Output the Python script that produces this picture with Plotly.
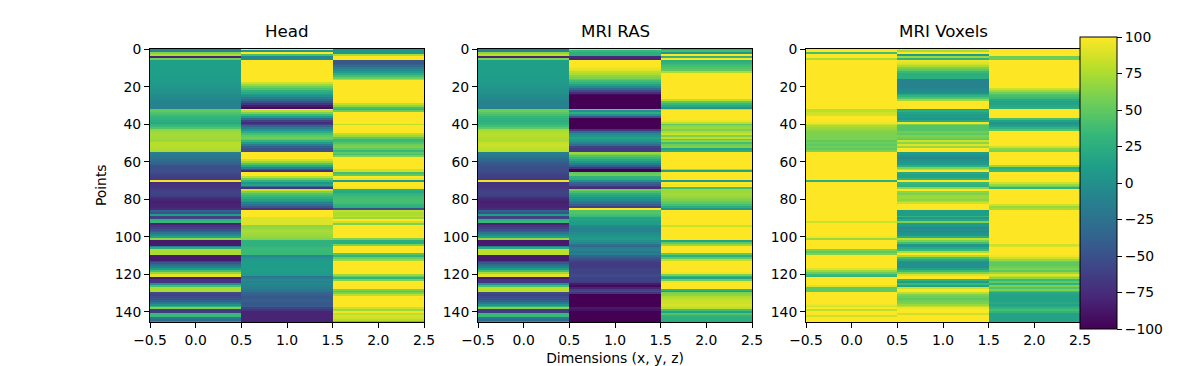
import plotly.graph_objects as go

head_x = [-10,-10,60,75,-80,55,12,12,12,12,
12,12,12,11,11,10,10,9,8,7,
5,3,2,0,-2,-4,-6,-8,-10,-10,
-11,-12,50,50,45,38,32,28,25,22,
28,35,45,66,70,72,72,72,70,70,
78,78,78,76,74,-15,-18,-20,-25,-30,
-35,-40,-50,-52,-50,-50,-55,-60,-62,-65,
95,-75,-72,-70,-68,-62,-60,-60,-62,-75,
-80,-82,-82,-80,-80,-75,-40,-50,10,-60,
-60,30,35,-80,-70,-60,-50,-40,-25,-5,
15,65,-85,-85,-85,-10,20,75,75,75,
-85,-85,-85,-60,-45,-30,-10,10,40,68,
92,92,-85,-70,-70,0,40,75,75,75,
-55,-60,-55,-50,-40,-20,0,30,60,-65,
-65,35,35,-20,-30,10]
head_y = [100,10,100,40,-5,-5,100,100,100,100,
100,100,100,100,100,100,100,100,85,70,
55,45,30,20,10,0,-15,-30,-50,-70,
-85,-95,100,80,60,35,10,-30,-60,-75,
-60,-35,-15,5,25,40,50,55,50,30,
10,-15,-40,-50,-50,100,100,100,100,85,
70,45,20,-10,-45,-75,100,100,80,55,
30,5,15,-30,-70,85,60,45,35,25,
15,5,-10,-25,-45,-70,100,100,100,100,
90,90,90,90,65,68,72,75,72,70,
68,62,28,28,28,30,35,35,35,35,
-5,3,8,10,10,10,10,10,12,10,
8,-25,-15,-5,-10,-8,-10,-15,-20,-25,
-35,-40,-45,-42,-40,-45,-45,-42,-60,-70,
-80,-80,-80,-80,-80,-80]
head_z = [5,5,5,75,100,100,-45,-45,-40,-30,
-15,-5,10,25,40,55,75,100,100,100,
100,100,100,100,100,100,100,100,100,80,
65,40,30,55,100,100,100,100,100,100,
80,100,100,100,100,80,70,50,35,35,
45,55,60,50,35,50,40,60,100,100,
100,100,100,100,85,85,40,50,100,95,
10,100,100,100,95,25,20,30,35,38,
40,42,40,30,25,-50,80,75,75,80,
70,100,85,60,100,100,100,100,100,100,
100,60,25,25,60,100,100,100,100,45,
30,55,70,100,100,100,100,100,100,100,
70,50,30,60,100,100,100,100,60,45,
60,80,100,100,100,100,100,100,85,70,
95,80,88,85,78,45]
ras_x = [-10,-10,65,80,-80,60,12,12,12,12,
12,12,12,11,11,10,10,9,8,7,
5,3,2,0,-2,-4,-6,-8,-10,-10,
-11,-12,55,55,48,40,33,28,26,28,
33,38,50,72,76,78,78,76,75,75,
82,84,82,80,78,-12,-16,-20,-28,-35,
-40,-45,-50,-52,-50,-52,-56,-60,-62,-65,
95,-72,-70,-70,-68,-62,-60,-60,-62,-75,
-80,-82,-82,-80,-80,-75,-40,-50,10,-60,
-60,30,35,-80,-70,-60,-50,-40,-25,-5,
15,68,-85,-85,-85,-10,20,80,80,80,
-85,-85,-85,-60,-45,-30,-10,10,40,72,
92,92,-85,-70,-70,0,40,80,80,80,
-55,-60,-55,-50,-40,-20,0,30,62,-65,
-65,35,35,-20,-30,10]
ras_y = [85,35,25,25,-75,-80,100,100,100,100,
95,90,80,75,65,60,50,40,30,15,
-5,-30,-55,-75,-95,-100,-100,-100,-100,-100,
-100,-100,55,0,25,0,-50,-100,-100,-100,
-100,-100,-100,-70,-30,-5,5,15,10,5,
-10,-30,-60,-65,-65,70,60,45,35,20,
5,-15,-40,-70,-100,-100,50,55,30,25,
0,-35,-45,-70,-75,55,40,25,15,5,
-5,-15,-25,-40,-60,100,45,45,40,35,
15,15,10,10,-5,-10,-10,-10,-5,0,
5,8,0,-5,-25,-35,-15,-10,-20,-15,
-35,-45,-55,-60,-65,-65,-65,-60,-60,-60,
-55,-55,-60,-60,-65,-85,-95,-80,-60,-50,
-70,-100,-100,-100,-100,-100,-100,-100,-85,-90,
-100,-100,-100,-100,-100,-100]
ras_z = [25,40,5,100,30,100,25,30,35,40,
45,50,75,100,100,100,100,100,100,100,
100,100,100,100,100,100,100,80,50,35,
20,5,80,100,100,100,100,100,95,80,
50,65,70,60,75,85,60,80,50,65,
40,55,60,15,25,100,100,100,100,100,
100,100,100,100,70,15,100,100,100,100,
10,100,95,100,40,70,70,72,70,65,
60,55,50,40,25,5,100,100,100,100,
100,100,100,100,85,100,100,100,100,100,
100,100,15,50,70,100,100,100,100,50,
25,50,80,100,100,100,100,100,100,95,
60,30,15,55,95,100,100,100,30,10,
60,65,75,80,85,85,88,85,80,40,
15,45,30,25,25,20]
vox_x = [100,100,40,100,100,75,100,100,100,100,
100,100,100,100,100,100,100,100,100,100,
100,100,100,100,100,100,100,100,100,100,
100,100,80,80,85,88,100,100,100,95,
85,75,70,65,60,60,60,60,60,50,
55,50,55,50,60,100,100,100,100,100,
100,100,100,100,100,100,100,100,100,100,
25,100,100,100,100,100,100,100,100,100,
100,100,100,100,100,100,100,100,100,100,
100,100,85,100,100,100,100,100,100,100,
95,70,100,100,100,100,100,60,50,60,
100,100,100,100,100,100,100,90,70,55,
35,30,100,100,100,100,90,50,50,50,
100,100,100,100,100,100,95,85,100,80,
100,100,85,100,100,100]
vox_y = [90,75,100,10,70,30,95,90,85,75,
60,50,35,25,25,25,-10,-10,-10,-10,
-10,-8,-5,0,20,30,45,70,100,100,
100,100,10,25,15,10,10,5,20,95,
60,45,45,45,55,50,60,55,50,85,
65,90,70,100,100,10,5,0,-5,0,
5,10,25,60,80,100,20,15,15,30,
100,35,30,25,65,100,65,60,70,70,
65,75,85,100,100,100,10,10,10,30,
5,20,60,10,5,-5,0,-5,0,5,
25,80,60,40,5,5,20,35,75,100,
75,40,20,5,0,0,0,15,35,60,
90,100,100,30,10,35,15,85,100,100,
80,60,55,50,55,60,70,80,95,100,
100,85,100,100,100,100]
vox_z = [100,100,100,100,55,55,100,100,100,100,
100,100,100,100,100,100,100,100,100,100,
100,85,70,55,45,40,35,20,15,15,
20,25,100,100,100,100,100,40,15,5,
5,15,30,45,100,100,100,100,100,100,
100,100,85,65,60,100,100,100,100,100,
100,100,70,25,30,35,100,100,100,100,
100,85,70,55,30,100,100,100,100,100,
100,100,100,85,70,75,100,100,100,100,
100,100,100,100,100,100,100,100,100,100,
100,100,100,100,85,90,100,100,100,100,
95,85,70,55,50,50,55,60,50,70,
90,80,65,35,50,30,60,45,60,40,
20,15,15,15,15,20,15,20,30,40,
30,15,15,15,15,15]

titles = ["Head", "MRI RAS", "MRI Voxels"]
panels = [(head_x, head_y, head_z), (ras_x, ras_y, ras_z), (vox_x, vox_y, vox_z)]
dimensions = [0, 1, 2]
x_ticks = [-0.5, 0, 0.5, 1, 1.5, 2, 2.5]
x_labels = ["\u22120.5", "0.0", "0.5", "1.0", "1.5", "2.0", "2.5"]
y_ticks = [0, 20, 40, 60, 80, 100, 120, 140]
cbar_ticks = [-100, -75, -50, -25, 0, 25, 50, 75, 100]

for p in panels:
    for c in p:
        assert len(c) == 146, len(c)

W, H = 1200, 366
FONT = "DejaVu Sans"
fig = go.Figure()
lefts = [150, 478, 806]
pw = 274
top, bottom = 48.5, 322
for i, (p, name, left) in enumerate(zip(panels, titles, lefts)):
    xa = "x" if i == 0 else f"x{i+1}"
    ya = "y" if i == 0 else f"y{i+1}"
    z = [list(r) for r in zip(*p)]
    fig.add_trace(go.Heatmap(z=z, x=dimensions, y=list(range(146)), coloraxis="coloraxis",
                             xaxis=xa, yaxis=ya, zsmooth=False, xgap=0, ygap=0))
    axis = dict(showgrid=False, zeroline=False, showline=True, linecolor="black", linewidth=1,
                mirror=True, ticks="outside", ticklen=5, tickwidth=1, tickcolor="black",
                automargin=False,
                tickfont=dict(family=FONT, size=13.9, color="black"))
    xkw = dict(axis, domain=[left / W, (left + pw) / W], range=[-0.5, 2.5], tickmode="array",
               tickvals=x_ticks, ticktext=x_labels, anchor=ya)
    ykw = dict(axis, domain=[1 - bottom / H, 1 - top / H], range=[145.5, -0.5], tickmode="array",
               tickvals=y_ticks, anchor=xa)
    if i == 1:
        xkw["title"] = dict(text="Dimensions (x, y, z)", font=dict(family=FONT, size=13.9, color="black"), standoff=6)
    if i == 0:
        ykw["title"] = dict(text="Points", font=dict(family=FONT, size=13.9, color="black"), standoff=4)
    fig.update_layout({("xaxis" if i == 0 else f"xaxis{i+1}"): xkw,
                       ("yaxis" if i == 0 else f"yaxis{i+1}"): ykw})
    fig.add_annotation(text=name, x=(left + pw / 2) / W, y=1 - 43 / H, xref="paper", yref="paper",
                       xanchor="center", yanchor="bottom", showarrow=False,
                       font=dict(family=FONT, size=16.7, color="black"))

fig.update_layout(
    width=W, height=H, margin=dict(l=0, r=0, t=0, b=0, autoexpand=False),
    paper_bgcolor="white", plot_bgcolor="white",
    coloraxis=dict(colorscale="Viridis", cmin=-100, cmax=100,
                   colorbar=dict(x=1080 / W, xanchor="left", xpad=0, ypad=0, thickness=37,
                                 thicknessmode="pixels", lenmode="fraction", len=292 / H,
                                 y=1 - 37 / H, yanchor="top", tickmode="array", tickvals=cbar_ticks,
                                 ticks="outside", ticklen=5, tickwidth=1, tickcolor="black",
                                 outlinecolor="black", outlinewidth=1,
                                 tickfont=dict(family=FONT, size=13.9, color="black"))),
)
fig.write_html("out.html", post_script="document.body.style.margin='0';",
               config={"displayModeBar": False})
